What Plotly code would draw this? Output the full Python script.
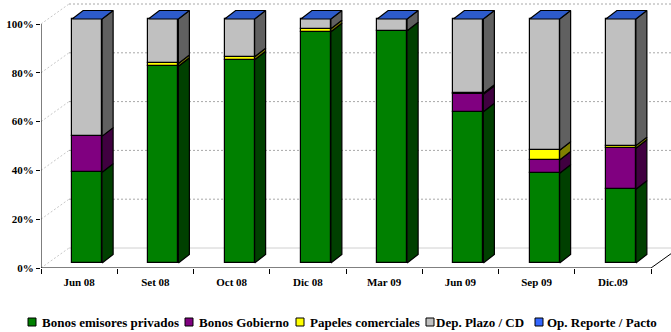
import plotly.graph_objects as go

# ---- data (percent of portfolio) ----
categories = ["Jun 08", "Set 08", "Oct 08", "Dic 08", "Mar 09", "Jun 09", "Sep 09", "Dic.09"]
bonos_privados = [37.2, 80.6, 83.3, 94.8, 95.2, 62.0, 36.8, 30.2]
bonos_gobierno = [14.8, 0.0, 0.0, 0.0, 0.0, 7.1, 5.4, 16.8]
papeles_comerciales = [0.0, 1.2, 1.2, 1.2, 0.0, 0.5, 4.0, 1.1]
dep_plazo = [48.0, 18.2, 15.5, 4.0, 4.8, 30.4, 53.8, 51.9]
op_reporte = [0.0, 0.0, 0.0, 0.0, 0.0, 0.0, 0.0, 0.0]

series_names = ["Bonos emisores privados", "Bonos Gobierno", "Papeles comerciales",
                "Dep. Plazo / CD", "Op. Reporte / Pacto"]
series_values = [bonos_privados, bonos_gobierno, papeles_comerciales, dep_plazo, op_reporte]

y_ticks = [0, 20, 40, 60, 80, 100]
y_tick_labels = ["0%", "20%", "40%", "60%", "80%", "100%"]

# ---- styling ----
front_colors = ["#008000", "#800080", "#FFFF00", "#C0C0C0", "#3366FF"]
side_colors = ["#004000", "#400040", "#808000", "#606060", "#1A3A99"]
top_colors = ["#00A000", "#A000A0", "#FFFF60", "#D8D8D8", "#2D5BCB"]
FONT = "Liberation Serif"
EDGE = 1.2

W, H = 671, 332
PL, PR, PT, PB = 41, 0, 0, 64
plot_w = W - PL - PR
plot_h = H - PT - PB
PX_CAT = 76.25          # pixels per category
PX_PCT = 2.44           # pixels per percent
n = len(categories)
x_rng = [-0.5, -0.5 + plot_w / PX_CAT]
y_rng = [0, plot_h / PX_PCT]

# 3D depth (full wall depth) in data units
DX = 28 / PX_CAT
DY = 20 / PX_PCT
# bar placement inside the depth
BAR_W = 30 / PX_CAT
FRONT_X = 8 / PX_CAT
FRONT_Y = 5 / PX_PCT
SIDE_X = 11 / PX_CAT
SIDE_Y = 8.5 / PX_PCT

fig = go.Figure()

# back wall / side wall / floor
shapes = []
grid_style = dict(color="#A8A8A8", width=1, dash="2px,2px")
for lv in y_ticks:
    style = grid_style if lv > 0 else dict(color="#D0D0D0", width=1)
    shapes.append(dict(type="line", xref="x", yref="y", x0=-0.5 + DX, x1=x_rng[1],
                       y0=lv + DY, y1=lv + DY, line=style, layer="below"))
    shapes.append(dict(type="line", xref="x", yref="y", x0=-0.5, x1=-0.5 + DX,
                       y0=lv, y1=lv + DY, line=dict(color="#C8C8C8", width=1, dash="2px,2px"),
                       layer="below"))
# floor right edge
shapes.append(dict(type="line", xref="x", yref="y", x0=n - 0.5, x1=n - 0.5 + DX,
                   y0=0, y1=DY, line=dict(color="#000000", width=1)))
# axis lines
shapes.append(dict(type="line", xref="x", yref="y", x0=-0.5, x1=-0.5, y0=0, y1=100,
                   line=dict(color="#000000", width=1)))
shapes.append(dict(type="line", xref="x", yref="y", x0=-0.5, x1=n - 0.5, y0=0, y1=0,
                   line=dict(color="#000000", width=1)))

xs = list(range(n))
cum = [0.0] * n
for k, (name, vals) in enumerate(zip(series_names, series_values)):
    bx, bb, bv = [], [], []
    sx, sy = [], []
    for i, v in enumerate(vals):
        if v <= 0:
            continue
        b = cum[i] + FRONT_Y
        t = b + v
        xc = i + FRONT_X
        bx.append(xc)
        bb.append(b)
        bv.append(v)
        x1 = xc + BAR_W / 2
        sx += [x1, x1 + SIDE_X, x1 + SIDE_X, x1, x1, None]
        sy += [b, b + SIDE_Y, t + SIDE_Y, t, b, None]
    fig.add_trace(go.Bar(x=bx, y=bv, base=bb, width=BAR_W, name=name, showlegend=False,
                         marker=dict(color=front_colors[k], line=dict(color="#000000", width=EDGE)),
                         hoverinfo="skip"))
    if sx:
        fig.add_trace(go.Scatter(x=sx, y=sy, mode="lines", fill="toself",
                                 fillcolor=side_colors[k], line=dict(color="#000000", width=EDGE),
                                 showlegend=False, hoverinfo="skip"))
    for i, v in enumerate(vals):
        cum[i] += v

# top faces take the colour of the topmost series
tx, ty = [], []
for i in range(n):
    t = cum[i] + FRONT_Y
    x0 = i + FRONT_X - BAR_W / 2
    x1 = i + FRONT_X + BAR_W / 2
    tx += [x0, x1, x1 + SIDE_X, x0 + SIDE_X, x0, None]
    ty += [t, t, t + SIDE_Y, t + SIDE_Y, t, None]
fig.add_trace(go.Scatter(x=tx, y=ty, mode="lines", fill="toself", fillcolor=top_colors[4],
                         line=dict(color="#000000", width=EDGE), showlegend=False,
                         hoverinfo="skip"))

# manual legend
def px_x(p):
    return (p - PL) / plot_w

def px_y(p):
    return (H - PB - p) / plot_h

legend_items = [(28, 40), (185, 197), (296, 308), (426, 434), (535, 545)]
annotations = []
ly = 322
for k, (sq, tx0) in enumerate(legend_items):
    shapes.append(dict(type="rect", xref="paper", yref="paper",
                       x0=px_x(sq), x1=px_x(sq + 8), y0=px_y(ly + 4), y1=px_y(ly - 4),
                       fillcolor=front_colors[k], line=dict(color="#000000", width=1)))
    annotations.append(dict(xref="paper", yref="paper", x=px_x(tx0), y=px_y(ly),
                            xanchor="left", yanchor="middle", showarrow=False,
                            text="<b>" + series_names[k] + "</b>",
                            font=dict(family=FONT, size=13, color="#000000")))

fig.update_layout(
    width=W, height=H,
    margin=dict(l=PL, r=PR, t=PT, b=PB, autoexpand=False),
    paper_bgcolor="#FFFFFF", plot_bgcolor="rgba(0,0,0,0)",
    barmode="overlay", bargap=0,
    shapes=shapes, annotations=annotations,
    xaxis=dict(range=x_rng, tickvals=xs, ticktext=["<b>" + c + "</b>" for c in categories],
               ticks="outside", ticklen=4,
               tickcolor="rgba(0,0,0,0)", showgrid=False, zeroline=False, showline=False,
               tickfont=dict(family=FONT, size=11, color="#000000"),
               fixedrange=True),
    xaxis2=dict(range=x_rng, overlaying="x", anchor="y", side="bottom",
                tickvals=[i - 0.5 for i in range(n + 1)], ticks="outside", ticklen=5,
                tickcolor="#000000", showticklabels=False, showgrid=False, zeroline=False,
                showline=False),
    yaxis=dict(range=y_rng, tickvals=y_ticks, ticktext=["<b>" + t + "</b>" for t in y_tick_labels],
               ticks="outside",
               ticklen=4, tickcolor="#000000", showgrid=False, zeroline=False, showline=False,
               tickfont=dict(family=FONT, size=11, color="#000000"),
               fixedrange=True),
)
# xaxis2 needs at least one trace to render its ticks
fig.add_trace(go.Scatter(x=[None], y=[None], xaxis="x2", showlegend=False, hoverinfo="skip"))

fig.write_html("out.html")
